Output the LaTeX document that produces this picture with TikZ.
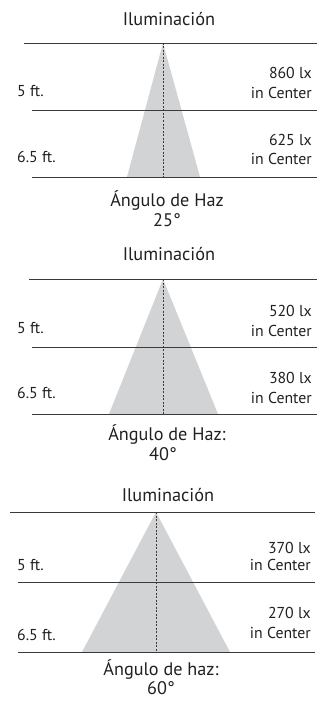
\documentclass[tikz,border=0pt]{standalone}
\usepackage{fontspec}
\setmainfont{PT Sans}
\definecolor{ink}{HTML}{231F20}
\definecolor{rule}{HTML}{3A3A3A}
\definecolor{beam}{HTML}{D1D3D4}
\begin{document}
\begin{tikzpicture}[x=1pt,y=-1pt,
  title/.style={font=\fontsize{18.3}{20}\selectfont,text=ink,inner sep=0pt},
  lab/.style={font=\fontsize{15.8}{18}\selectfont,text=ink,inner sep=0pt},
  angle/.style={font=\fontsize{18.2}{20}\selectfont,text=ink,inner sep=0pt},
  hline/.style={draw=rule,line width=0.9pt},
  axis/.style={draw=rule,line width=0.9pt,dash pattern=on 2pt off 1.5pt},
  cone/.style={fill=beam,draw=none}]
\useasboundingbox (0,0) rectangle (326,706);
% ---------- Panel 1 ----------
\node[title] (t1) at (169,19) {Iluminación};
\coordinate (a1) at (163,43);
\fill[cone] (a1) -- (127,177) -- (200,177) -- cycle;
\coordinate (l1a) at (24,43); \coordinate (r1a) at (317,43);
\coordinate (l1b) at (32,110); \coordinate (r1b) at (317,110);
\coordinate (l1c) at (32,177); \coordinate (r1c) at (317,177);
\coordinate (b1) at (163,177);
\draw[hline] (l1a) -- (r1a);
\draw[hline] (l1b) -- (r1b);
\draw[hline] (l1c) -- (r1c);
\draw[axis] (a1) -- (b1);
\node[lab,anchor=west] (f1a) at (17,91) {5 ft.};
\node[lab,anchor=west] (f1b) at (17,157) {6.5 ft.};
\node[lab,anchor=east] (v1a) at (312,73) {860 lx};
\node[lab,anchor=east] (c1a) at (312,93) {in Center};
\node[lab,anchor=east] (v1b) at (312,140) {625 lx};
\node[lab,anchor=east] (c1b) at (312,159) {in Center};
\node[angle] (g1) at (167,201) {Ángulo de Haz};
\node[angle] (d1) at (167,220) {25°};
% ---------- Panel 2 ----------
\node[title] (t2) at (169,254) {Iluminación};
\coordinate (a2) at (163,279);
\fill[cone] (a2) -- (109,414) -- (218,414) -- cycle;
\coordinate (l2a) at (29,279); \coordinate (r2a) at (317,279);
\coordinate (l2b) at (32,347); \coordinate (r2b) at (317,347);
\coordinate (l2c) at (32,414); \coordinate (r2c) at (317,414);
\coordinate (b2) at (163,414);
\draw[hline] (l2a) -- (r2a);
\draw[hline] (l2b) -- (r2b);
\draw[hline] (l2c) -- (r2c);
\draw[axis] (a2) -- (b2);
\node[lab,anchor=west] (f2a) at (17,328) {5 ft.};
\node[lab,anchor=west] (f2b) at (17,393) {6.5 ft.};
\node[lab,anchor=east] (v2a) at (312,311) {520 lx};
\node[lab,anchor=east] (c2a) at (312,331) {in Center};
\node[lab,anchor=east] (v2b) at (312,378) {380 lx};
\node[lab,anchor=east] (c2b) at (312,398) {in Center};
\node[angle] (g2) at (167,435) {Ángulo de Haz:};
\node[angle] (d2) at (163,454) {40°};
% ---------- Panel 3 ----------
\node[title] (t3) at (168,495) {Iluminación};
\coordinate (a3) at (156,512);
\fill[cone] (a3) -- (82,652) -- (230,652) -- cycle;
\coordinate (l3a) at (10,512); \coordinate (r3a) at (315,512);
\coordinate (l3b) at (18,582); \coordinate (r3b) at (315,582);
\coordinate (l3c) at (18,652); \coordinate (r3c) at (315,652);
\coordinate (b3) at (156,652);
\draw[hline] (l3a) -- (r3a);
\draw[hline] (l3b) -- (r3b);
\draw[hline] (l3c) -- (r3c);
\draw[axis] (a3) -- (b3);
\node[lab,anchor=west] (f3a) at (17,565) {5 ft.};
\node[lab,anchor=west] (f3b) at (17,635) {6.5 ft.};
\node[lab,anchor=east] (v3a) at (311,548) {370 lx};
\node[lab,anchor=east] (c3a) at (311,565) {in Center};
\node[lab,anchor=east] (v3b) at (311,613) {270 lx};
\node[lab,anchor=east] (c3b) at (311,633) {in Center};
\node[angle] (g3) at (161,670) {Ángulo de haz:};
\node[angle] (d3) at (161,688) {60°};
\end{tikzpicture}
\end{document}
